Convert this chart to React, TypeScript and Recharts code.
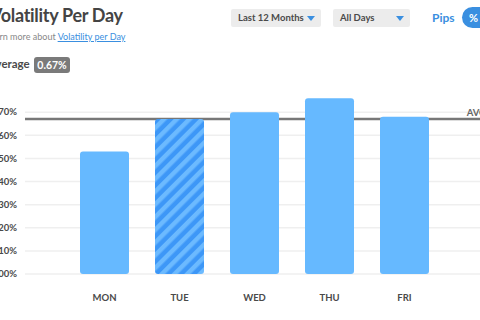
import React from 'react';
import { BarChart, Bar, XAxis, YAxis, CartesianGrid, ReferenceLine, Cell } from 'recharts';

const DAYS = ['MON', 'TUE', 'WED', 'THU', 'FRI'];
const VOLATILITY = [0.53, 0.67, 0.70, 0.76, 0.68];
const Y_TICKS = [0, 0.1, 0.2, 0.3, 0.4, 0.5, 0.6, 0.7];
const AVERAGE = 0.67;
const HIGHLIGHT_DAY = 'TUE';

const FONT = 'Lato, "Noto Sans", sans-serif';
const TEXT_DARK = '#4a4a4a';
const BAR_BLUE = '#66b9ff';
const TICK_Y = { fontSize: 9.5, fill: TEXT_DARK, fontWeight: 700, fontFamily: FONT };
const TICK_X = { fontSize: 9.5, fill: TEXT_DARK, fontWeight: 700, fontFamily: FONT };

const chartData = DAYS.map((day, i) => ({ day, value: VOLATILITY[i] }));

function fmtPct(v: number) {
  return `${v.toFixed(2)}%`;
}

function Dropdown({ label, left, width }: { label: string; left: number; width: number }) {
  return (
    <div style={{ position: 'absolute', left, top: 9, width, height: 18, background: '#ececec', borderRadius: 2, fontSize: 9.5, fontWeight: 700, color: TEXT_DARK }}>
      <span style={{ position: 'absolute', left: 7, top: 3 }}>{label}</span>
      <span style={{ position: 'absolute', right: 6, top: 7, width: 0, height: 0, borderLeft: '4px solid transparent', borderRight: '4px solid transparent', borderTop: '5px solid #3a8fe0' }} />
    </div>
  );
}

export default function App() {
  return (
    <div style={{ position: 'fixed', left: 0, top: 0, width: 480, height: 320, overflow: 'hidden', background: '#fff', fontFamily: FONT }}>
      <div style={{ position: 'absolute', left: -10, top: 4, fontSize: 18, fontWeight: 700, color: '#444', whiteSpace: 'nowrap', letterSpacing: -0.3 }}>
        Volatility Per Day
      </div>
      <div style={{ position: 'absolute', left: -14, top: 31, fontSize: 9, color: '#888', whiteSpace: 'nowrap' }}>
        Learn more about <span style={{ color: '#3a8fe0', textDecoration: 'underline' }}>Volatility per Day</span>
      </div>
      <div style={{ position: 'absolute', left: -12, top: 57, fontSize: 11.5, fontWeight: 700, color: TEXT_DARK, whiteSpace: 'nowrap' }}>
        Average
      </div>
      <div style={{ position: 'absolute', left: 34, top: 57, width: 36, height: 16, background: '#7a7a7a', borderRadius: 3, color: '#fff', fontSize: 10.5, fontWeight: 700, textAlign: 'center', lineHeight: '16px' }}>
        {fmtPct(AVERAGE)}
      </div>

      <Dropdown label="Last 12 Months" left={231} width={90} />
      <Dropdown label="All Days" left={333} width={77} />
      <div style={{ position: 'absolute', left: 432, top: 10, fontSize: 12, fontWeight: 700, color: '#3a8fe0' }}>Pips</div>
      <div style={{ position: 'absolute', left: 462, top: 7, width: 40, height: 21, borderRadius: 11, background: '#3a8fe0', color: '#fff', fontSize: 11, fontWeight: 700, lineHeight: '21px', paddingLeft: 7, boxSizing: 'border-box' }}>%</div>

      <div style={{ position: 'absolute', left: 0, top: 0 }}>
        <BarChart width={500} height={320} data={chartData} margin={{ top: 89, right: 0, bottom: 16, left: 0 }}>
          <defs>
            <pattern id="stripes" width="9" height="9" patternUnits="userSpaceOnUse" patternTransform="rotate(45)">
              <rect width="9" height="9" fill="#3d97f7" />
              <rect width="4.5" height="9" fill="#6cbaff" />
            </pattern>
          </defs>
          <CartesianGrid vertical={false} horizontalValues={Y_TICKS} stroke="#efefef" strokeWidth={1.5} />
          <YAxis
            domain={[0, 0.8]}
            ticks={Y_TICKS}
            tickFormatter={fmtPct}
            tick={TICK_Y}
            axisLine={false}
            tickLine={false}
            width={25}
            tickMargin={2}
            interval={0}
          />
          <XAxis
            dataKey="day"
            tick={TICK_X}
            axisLine={false}
            tickLine={false}
            height={30}
            tickMargin={14}
            padding={{ left: 42, right: 58 }}
          />
          <ReferenceLine
            y={AVERAGE}
            stroke="#777"
            strokeWidth={2.5}
            zIndex={0}
            label={{ value: 'AVG', position: 'insideBottomRight', fill: '#666', fontSize: 9.5, fontWeight: 700, fontFamily: FONT, offset: 3, dx: -11 }}
          />
          <Bar dataKey="value" barSize={49} radius={3} isAnimationActive={false}>
            {chartData.map(d => (
              <Cell key={d.day} fill={d.day === HIGHLIGHT_DAY ? 'url(#stripes)' : BAR_BLUE} />
            ))}
          </Bar>
        </BarChart>
      </div>
    </div>
  );
}
